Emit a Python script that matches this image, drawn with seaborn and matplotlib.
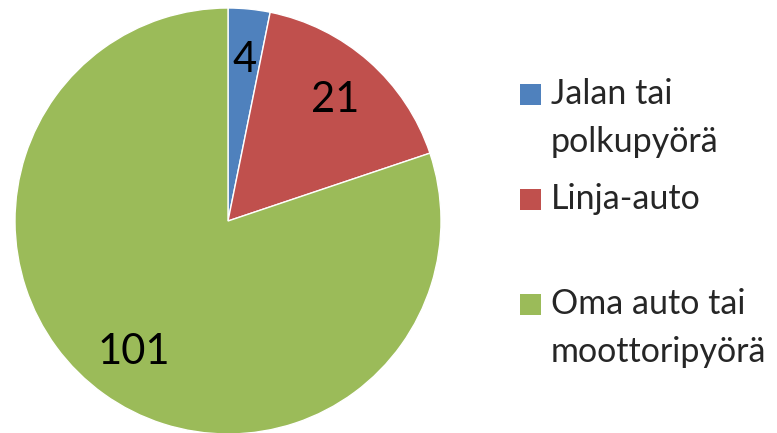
import matplotlib
matplotlib.use("Agg")
import matplotlib.pyplot as plt
import seaborn as sns
from matplotlib.patches import Rectangle

### pie of how people travel (counts per category)

categories = ["Jalan tai\npolkupyörä", "Linja-auto", "Oma auto tai\nmoottoripyörä"]
counts = [4, 21, 101]
colors = ["#4F81BD", "#C0504D", "#9BBB59"]

sns.set_theme(style="white")
plt.rcParams['font.family'] = ['Lato', 'DejaVu Sans']

W, H = 777, 433
fig = plt.figure(figsize=(W / 100, H / 100), dpi=100)

# pie placement in pixels: center (228, 221 from top), radius 213
cx, cy, r = 228, 221, 213
ax = fig.add_axes([(cx - r) / W, (H - cy - r) / H, 2 * r / W, 2 * r / H])

total = sum(counts)
wedges, texts, autotexts = ax.pie(
    counts,
    colors=colors,
    startangle=90,
    counterclock=False,
    autopct=lambda p: "%d" % round(p * total / 100),
    pctdistance=0.76,
    wedgeprops=dict(edgecolor="white", linewidth=1),
    textprops=dict(fontsize=30, color="black"),
)
ax.set_xlim(-1, 1)
ax.set_ylim(-1, 1)
ax.set_aspect("equal")
ax.axis("off")

## legend drawn by hand so the uneven spacing matches
leg_y = [95, 200, 305]  # top line centre of each entry (px from top)
for lab, col, y in zip(categories, colors, leg_y):
    fig.patches.append(Rectangle((520 / W, 1 - (y + 10) / H), 21 / W, 21 / H,
                                 facecolor=col, edgecolor="none",
                                 transform=fig.transFigure, figure=fig))
    fig.text(551 / W, 1 - (y - 17) / H, lab, fontsize=24.5, va="top", ha="left",
             linespacing=1.62)

fig.savefig("out.png", dpi=100)
